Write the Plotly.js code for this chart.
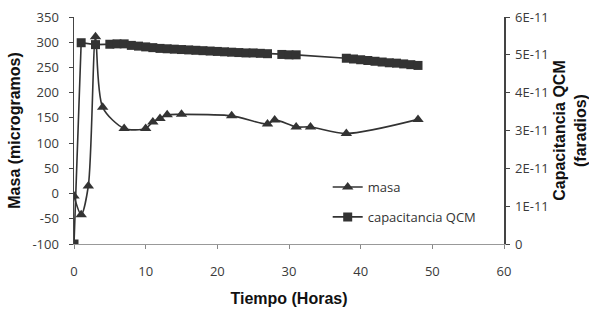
<!DOCTYPE html>
<html>
<head>
<meta charset="utf-8">
<script src="https://cdn.plot.ly/plotly-3.0.1.min.js"></script>
<style>html,body{margin:0;padding:0;background:#fff;}#chart{width:589px;height:312px;}</style>
</head>
<body>
<div id="chart"></div>
<script>
// Masa (microgramos) vs Tiempo (Horas)
const masaX = [0, 1, 2, 3, 4, 7, 10, 11, 12, 13, 15, 22, 27, 28, 31, 33, 38, 48];
const masaY = [-5, -42, 15, 311, 171, 129, 129, 142, 149, 156, 157, 154, 138, 146, 132, 132, 119, 147];

// Capacitancia QCM (faradios) vs Tiempo (Horas)
const capX = [0, 1, 3, 5, 6, 7, 8, 9, 10, 11, 12, 13, 14, 15, 16, 17, 18, 19, 20, 21, 22, 23, 24, 25, 26, 27, 29, 30, 31, 38, 39, 40, 41, 42, 43, 44, 45, 46, 47, 48];
const capY = [0, 5.32e-11, 5.27e-11, 5.28e-11, 5.29e-11, 5.29e-11, 5.25e-11, 5.23e-11, 5.21e-11, 5.19e-11, 5.17e-11, 5.16e-11, 5.15e-11, 5.14e-11, 5.13e-11, 5.12e-11, 5.11e-11, 5.10e-11, 5.09e-11, 5.08e-11, 5.07e-11, 5.06e-11, 5.05e-11, 5.05e-11, 5.04e-11, 5.03e-11, 5.01e-11, 5.0e-11, 5.0e-11, 4.91e-11, 4.89e-11, 4.87e-11, 4.85e-11, 4.83e-11, 4.81e-11, 4.79e-11, 4.78e-11, 4.76e-11, 4.74e-11, 4.72e-11];

const xTicks = [0, 10, 20, 30, 40, 50, 60];
const leftTicks = [-100, -50, 0, 50, 100, 150, 200, 250, 300, 350];
const leftTickText = ["-100", "-50", "0", "50", "100", "150", "200", "250", "300", "350"];
const rightTickVals = [0, 1e-11, 2e-11, 3e-11, 4e-11, 5e-11, 6e-11];
const rightTickText = ["0", "1E-11", "2E-11", "3E-11", "4E-11", "5E-11", "6E-11"];

const ink = '#333333';
const tickFont = {family: 'Open Sans, sans-serif', size: 13, color: '#3a3a3a'};
const xTitleFont = {family: 'Liberation Sans, Arial, sans-serif', size: 16, color: '#111', weight: 'bold'};
const yTitleFont = {family: 'Liberation Sans, Arial, sans-serif', size: 16, color: '#111', weight: 'bold'};

const traces = [
  {
    x: masaX, y: masaY, name: 'masa', type: 'scatter', mode: 'lines+markers',
    legendgroup: 'g1',
    line: {color: ink, width: 1.6, shape: 'spline', smoothing: 0.8},
    marker: {symbol: 'triangle-up', size: 10, color: ink},
    yaxis: 'y'
  },
  {
    x: capX, y: capY, name: 'capacitancia QCM', type: 'scatter', mode: 'lines+markers',
    legendgroup: 'g2',
    line: {color: ink, width: 1.6},
    marker: {symbol: 'square', size: 9, color: ink},
    yaxis: 'y2'
  }
];

const layout = {
  width: 589, height: 312,
  margin: {l: 74, r: 85, t: 17, b: 68},
  paper_bgcolor: '#fff', plot_bgcolor: '#fff',
  showlegend: true,
  legend: {
    x: 0.59, y: 0.317, xanchor: 'left', yanchor: 'top',
    bgcolor: 'rgba(0,0,0,0)', traceorder: 'grouped', tracegroupgap: 10,
    font: {family: 'Open Sans, sans-serif', size: 13, color: '#333'}
  },
  xaxis: {
    range: [0, 60], tickvals: xTicks, ticks: 'outside', ticklen: 4, tickcolor: '#888',
    showline: true, linecolor: '#999', linewidth: 1, showgrid: false, zeroline: false,
    tickfont: tickFont, ticklabelstandoff: 11,
    title: {text: 'Tiempo (Horas)', font: xTitleFont, standoff: 14}
  },
  yaxis: {
    range: [-100, 350], tickvals: leftTicks, ticktext: leftTickText,
    ticks: 'outside', ticklen: 4, tickcolor: '#444',
    showline: true, linecolor: '#444', linewidth: 1.5, showgrid: false, zeroline: false,
    tickfont: tickFont, ticklabelstandoff: 7,
    title: {text: 'Masa (microgramos)', font: yTitleFont, standoff: 8}
  },
  yaxis2: {
    overlaying: 'y', side: 'right',
    range: [0, 6e-11], tickvals: rightTickVals, ticktext: rightTickText,
    ticks: 'outside', ticklen: 4, tickcolor: '#444',
    showline: true, linecolor: '#444', linewidth: 1.5, showgrid: false, zeroline: false,
    tickfont: tickFont, ticklabelstandoff: 3,
    title: {text: 'Capacitancia QCM<br>(faradios)', font: yTitleFont, standoff: 7}
  }
};

Plotly.newPlot('chart', traces, layout, {displayModeBar: false, staticPlot: true});
</script>
</body>
</html>
